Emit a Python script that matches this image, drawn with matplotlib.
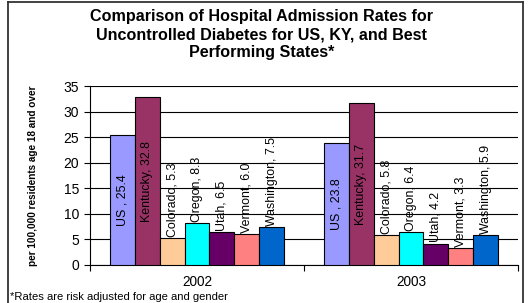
import matplotlib
matplotlib.use("Agg")
import matplotlib.pyplot as plt
import numpy as np
from matplotlib.lines import Line2D

years = ["2002", "2003"]
states = ["US ", "Kentucky", "Colorado", "Oregon", "Utah", "Vermont", "Washington"]
values = {
    "US ": [25.4, 23.8],
    "Kentucky": [32.8, 31.7],
    "Colorado": [5.3, 5.8],
    "Oregon": [8.3, 6.4],
    "Utah": [6.5, 4.2],
    "Vermont": [6.0, 3.3],
    "Washington": [7.5, 5.9],
}
colors = ["#9999FF", "#993366", "#FFCC99", "#00FFFF", "#660066", "#FF8080", "#0066CC"]
yticks = [0, 5, 10, 15, 20, 25, 30, 35]
title_lines = ["Comparison of Hospital Admission Rates for",
               "Uncontrolled Diabetes for US, KY, and Best",
               "Performing States*"]

plt.rcParams['font.family'] = ['Liberation Sans', 'DejaVu Sans']

W, H = 529, 303
fig = plt.figure(figsize=(W / 100, H / 100), dpi=100)
fig.patch.set_facecolor("white")

def fx(px): return px / W
def fy(py): return 1 - py / H

ax = fig.add_axes([fx(90), fy(265), fx(518) - fx(90), fy(86) - fy(265)])

n = len(states)
bw = 1.0 / (n + 1.57)
x0 = np.arange(len(years))
for i, (s, c) in enumerate(zip(states, colors)):
    xs = x0 + (i - (n - 1) / 2) * bw
    vals = values[s]
    ax.bar(xs, vals, width=bw, color=c, edgecolor="black", linewidth=0.8, zorder=3)
    for xx, v in zip(xs, vals):
        label = f"{s}, {v:.1f}"
        if v > 15:
            ax.text(xx, v / 2, label, rotation=90, ha="center", va="center",
                    fontsize=8.9, zorder=4)
        else:
            ax.text(xx, v + 0.2, label, rotation=90, ha="center", va="bottom",
                    fontsize=8.9, zorder=4)

ax.set_xlim(-0.5, 1.5)
ax.set_ylim(0, 35)
ax.set_yticks(yticks)
ax.yaxis.grid(True, color="black", linewidth=0.8, zorder=0)
ax.set_axisbelow(True)
ax.set_xticks([-0.5, 0.5, 1.5])
ax.set_xticklabels([])
ax.set_xticks(x0, minor=True)
ax.set_xticklabels(years, minor=True)
ax.tick_params(axis="x", which="minor", length=0, pad=7.5, labelsize=9.8)
ax.tick_params(axis="x", which="major", length=4, direction="out", width=0.8)
ax.tick_params(axis="y", length=4, width=0.8, direction="out", labelsize=10, pad=4)
for sp in ["top", "right"]:
    ax.spines[sp].set_visible(False)
ax.spines["left"].set_linewidth(0.8)
ax.spines["bottom"].set_linewidth(0.8)

ax.set_ylabel("per 100,000 residents age 18 and over", fontsize=7.2,
              fontweight="bold")
ax.yaxis.label.set_va("center")
ax.yaxis.set_label_coords((33 - 90) / (518 - 90), 0.5)

for line, py in zip(title_lines, [16, 34.5, 53]):
    fig.text(fx(262), fy(py), line, ha="center", va="center",
             fontsize=11.6, fontweight="bold")

fig.text(fx(10), fy(296.5), "*Rates are risk adjusted for age and gender",
         ha="left", va="center", fontsize=8.1)

bc = "#333333"
fig.add_artist(Line2D([fx(8), fx(8)], [fy(2), -0.1], color=bc, linewidth=1.3))
fig.add_artist(Line2D([fx(523), fx(523)], [fy(2), -0.1], color=bc, linewidth=1.3))
fig.add_artist(Line2D([fx(8), fx(523)], [fy(2), fy(2)], color=bc, linewidth=1.3))

fig.savefig("out.png", dpi=100)
